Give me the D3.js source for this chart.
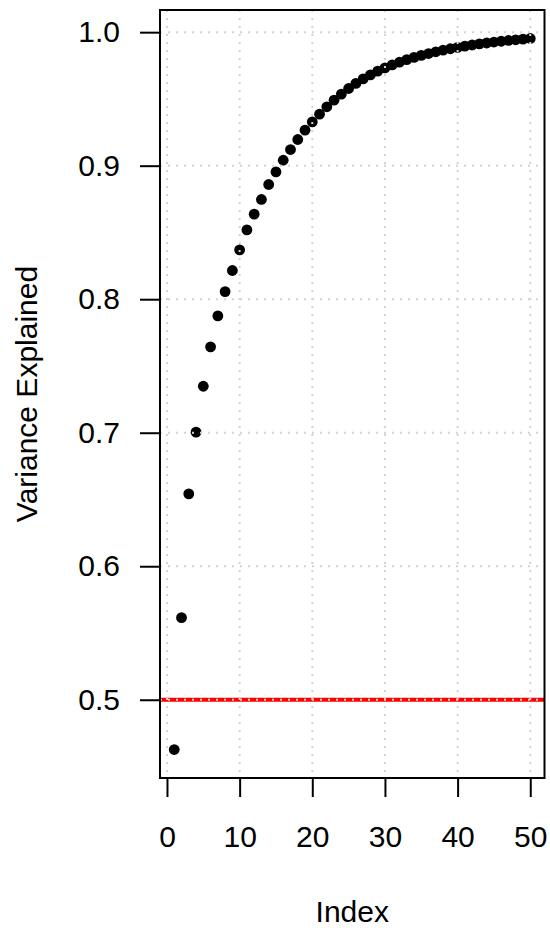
<!DOCTYPE html>
<html>
<head>
<meta charset="utf-8">
<script src="https://cdn.jsdelivr.net/npm/d3@7"></script>
<style>
  html, body { margin: 0; padding: 0; background: #fff; }
  svg { display: block; font-family: "Liberation Sans", Arial, Helvetica, sans-serif; }
</style>
</head>
<body>
<svg id="chart" width="550" height="928"></svg>
<script>
// Data
const indexValues = d3.range(1, 51);
const varianceExplained = [
  0.4627, 0.5615, 0.6542, 0.7004, 0.7348, 0.7643, 0.7875, 0.8057, 0.8215, 0.8369,
  0.8519, 0.8637, 0.8747, 0.8859, 0.8954, 0.9041, 0.9121, 0.9196, 0.9266, 0.9328,
  0.9386, 0.9441, 0.9491, 0.9536, 0.9578, 0.9616, 0.9650, 0.9680, 0.9708, 0.9733,
  0.9755, 0.9775, 0.9794, 0.9811, 0.9826, 0.9840, 0.9853, 0.9865, 0.9876, 0.9886,
  0.9895, 0.9904, 0.9912, 0.9919, 0.9926, 0.9932, 0.9938, 0.9943, 0.9948, 0.9953
];
const xTicks = [0, 10, 20, 30, 40, 50];
const yTicks = [0.5, 0.6, 0.7, 0.8, 0.9, 1.0];
const yTickLabels = ["0.5", "0.6", "0.7", "0.8", "0.9", "1.0"];
const thresholdValue = 0.5;
const xLabel = "Index";
const yLabel = "Variance Explained";

const svg = d3.select("#chart");
const L = 160, R = 544.5, T = 10, B = 778;

function padded(ext) {
  const s = ext[1] - ext[0];
  return [ext[0] - 0.04 * s, ext[1] + 0.04 * s];
}
const x = d3.scaleLinear().domain(padded(d3.extent(indexValues))).range([L, R]);
const y = d3.scaleLinear().domain(padded(d3.extent(varianceExplained))).range([B, T]);

svg.append("defs").append("clipPath").attr("id", "clip")
  .append("rect").attr("x", L).attr("y", T).attr("width", R - L).attr("height", B - T);

const plot = svg.append("g").attr("clip-path", "url(#clip)");

// points
plot.selectAll("circle.pt").data(indexValues).enter().append("circle")
  .attr("class", "pt")
  .attr("cx", d => x(d))
  .attr("cy", (d, i) => y(varianceExplained[i]))
  .attr("r", 5.4)
  .attr("fill", "#000");

// red threshold line
plot.append("line")
  .attr("x1", L).attr("x2", R)
  .attr("y1", y(thresholdValue)).attr("y2", y(thresholdValue))
  .attr("stroke", "#ff0000").attr("stroke-width", 4);

// grid (drawn last, dotted lightgray)
plot.selectAll("line.vg").data(xTicks).enter().append("line")
  .attr("class", "vg")
  .attr("x1", d => x(d)).attr("x2", d => x(d))
  .attr("y1", T).attr("y2", B)
  .attr("stroke", "#d3d3d3").attr("stroke-width", 2).attr("stroke-dasharray", "2,6");
plot.selectAll("line.hg").data(yTicks).enter().append("line")
  .attr("class", "hg")
  .attr("x1", L).attr("x2", R)
  .attr("y1", d => y(d)).attr("y2", d => y(d))
  .attr("stroke", "#d3d3d3").attr("stroke-width", 2).attr("stroke-dasharray", "2,6");

// box
svg.append("rect")
  .attr("x", L).attr("y", T).attr("width", R - L).attr("height", B - T)
  .attr("fill", "none").attr("stroke", "#000").attr("stroke-width", 2);

// x axis
const xAxis = d3.axisBottom(x).tickValues(xTicks).tickSize(19).tickPadding(29)
  .tickFormat(d3.format("d"));
const gx = svg.append("g").attr("transform", `translate(0,${B})`).call(xAxis);
gx.select(".domain").remove();
gx.selectAll(".tick line").attr("stroke", "#000").attr("stroke-width", 2);
gx.selectAll(".tick text").attr("font-size", 30).attr("fill", "#000")
  .attr("font-family", "'Liberation Sans', Arial, sans-serif");

// y axis
const yAxis = d3.axisLeft(y).tickValues(yTicks).tickSize(20).tickPadding(20)
  .tickFormat((d, i) => yTickLabels[i]);
const gy = svg.append("g").attr("transform", `translate(${L},0)`).call(yAxis);
gy.select(".domain").remove();
gy.selectAll(".tick line").attr("stroke", "#000").attr("stroke-width", 2);
gy.selectAll(".tick text").attr("font-size", 30).attr("fill", "#000")
  .attr("font-family", "'Liberation Sans', Arial, sans-serif");

// axis titles
svg.append("text")
  .attr("x", (L + R) / 2).attr("y", 921.5)
  .attr("text-anchor", "middle").attr("font-size", 30).attr("fill", "#000")
  .text(xLabel);
svg.append("text")
  .attr("transform", `translate(37,${(T + B) / 2}) rotate(-90)`)
  .attr("text-anchor", "middle").attr("font-size", 30).attr("fill", "#000")
  .text(yLabel);
</script>
</body>
</html>
